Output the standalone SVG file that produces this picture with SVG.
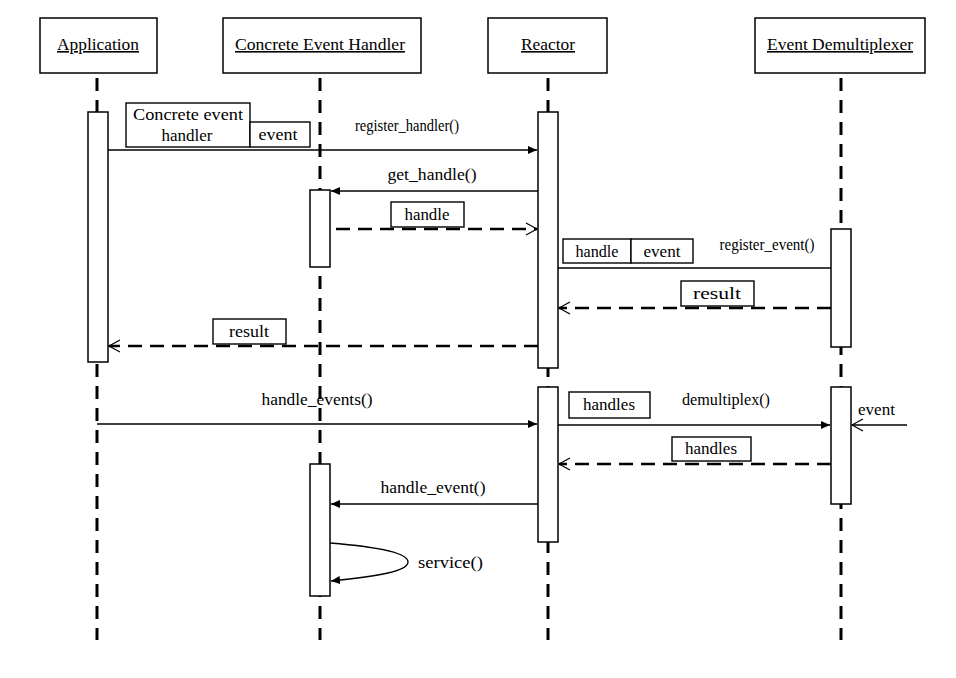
<svg xmlns="http://www.w3.org/2000/svg" width="956" height="678" viewBox="0 0 956 678">
<style>
text{font-family:"Liberation Serif","Times New Roman",serif;font-size:16px;fill:#000}
.hd{text-anchor:middle;text-decoration:underline}
.c{text-anchor:middle}
.box{fill:#fff;stroke:#000;stroke-width:1.5}
.life{stroke:#000;stroke-width:3;stroke-dasharray:13 9;fill:none}
.act{fill:#fff;stroke:#000;stroke-width:1.5}
.msg{stroke:#000;stroke-width:1.4;fill:none}
.ret{stroke:#000;stroke-width:2.6;stroke-dasharray:14 8;fill:none}
.lbl{fill:#fff;stroke:#000;stroke-width:1.4}
</style>
<defs>
<marker id="fill" markerWidth="10" markerHeight="10" refX="9" refY="5" orient="auto" markerUnits="userSpaceOnUse">
<path d="M0,1 L9,5 L0,9 Z" fill="#000"/>
</marker>
<marker id="open" markerWidth="14" markerHeight="14" refX="12" refY="7" orient="auto" markerUnits="userSpaceOnUse">
<path d="M1,1 L12,7 L1,13" fill="none" stroke="#000" stroke-width="1.2"/>
</marker>
</defs>
<rect width="956" height="678" fill="#fff"/>

<g id="lifelines">
<line class="life" x1="97" y1="78" x2="97" y2="640"/>
<line class="life" x1="320" y1="78" x2="320" y2="640"/>
<line class="life" x1="548" y1="78" x2="548" y2="640"/>
<line class="life" x1="841" y1="78" x2="841" y2="640"/>
</g>

<g id="application">
<rect class="box" x="40" y="18" width="117" height="55"/>
<text class="hd" x="98" y="50" textLength="82" lengthAdjust="spacingAndGlyphs">Application</text>
<rect class="act" x="88" y="112" width="20" height="250"/>
</g>

<g id="concrete-event-handler">
<rect class="box" x="223" y="18" width="198" height="55"/>
<text class="hd" x="320" y="50" textLength="170" lengthAdjust="spacingAndGlyphs">Concrete Event Handler</text>
<rect class="act" x="310" y="190" width="20" height="77"/>
<rect class="act" x="310" y="464" width="20" height="132"/>
</g>

<g id="reactor">
<rect class="box" x="488" y="18" width="119" height="55"/>
<text class="hd" x="548" y="50" textLength="54" lengthAdjust="spacingAndGlyphs">Reactor</text>
<rect class="act" x="538" y="112" width="20" height="256"/>
<rect class="act" x="538" y="387" width="20" height="155"/>
</g>

<g id="event-demultiplexer">
<rect class="box" x="755" y="18" width="170" height="55"/>
<text class="hd" x="840" y="50" textLength="146" lengthAdjust="spacingAndGlyphs">Event Demultiplexer</text>
<rect class="act" x="831" y="229" width="20" height="118"/>
<rect class="act" x="831" y="387" width="20" height="117"/>
</g>

<g id="connectors">
<line class="msg" x1="108" y1="150" x2="537" y2="150" marker-end="url(#fill)"/>
<line class="msg" x1="538" y1="191" x2="331" y2="191" marker-end="url(#fill)"/>
<line class="ret" x1="336" y1="229" x2="537" y2="229" marker-end="url(#open)"/>
<line class="msg" x1="558" y1="268" x2="831" y2="268"/>
<line class="ret" x1="831" y1="308" x2="559" y2="308" marker-end="url(#open)"/>
<line class="ret" x1="538" y1="346" x2="109" y2="346" marker-end="url(#open)"/>
<line class="msg" x1="97" y1="424" x2="537" y2="424" marker-end="url(#fill)"/>
<line class="msg" x1="558" y1="425" x2="830" y2="425" marker-end="url(#fill)"/>
<line class="msg" x1="907" y1="425" x2="852" y2="425" marker-end="url(#open)"/>
<line class="ret" x1="831" y1="464" x2="559" y2="464" marker-end="url(#open)"/>
<line class="msg" x1="538" y1="504" x2="331" y2="504" marker-end="url(#fill)"/>
<path class="msg" d="M330,543 C380,547 408,553 408,562 C408,571 380,576 331,581" marker-end="url(#fill)"/>
</g>

<g id="labels">
<rect class="lbl" x="126" y="103" width="124" height="44"/>
<text class="c" x="188" y="120" textLength="110" lengthAdjust="spacingAndGlyphs">Concrete event</text>
<text class="c" x="187" y="141" textLength="51" lengthAdjust="spacingAndGlyphs">handler</text>
<rect class="lbl" x="250" y="122" width="60" height="25"/>
<text class="c" x="278" y="140" textLength="39" lengthAdjust="spacingAndGlyphs">event</text>
<text class="c" x="407" y="131" textLength="104" lengthAdjust="spacingAndGlyphs">register_handler()</text>

<text class="c" x="432" y="180" textLength="89" lengthAdjust="spacingAndGlyphs">get_handle()</text>
<rect class="lbl" x="391" y="202" width="73" height="25"/>
<text class="c" x="427" y="220" textLength="45" lengthAdjust="spacingAndGlyphs">handle</text>

<rect class="lbl" x="563" y="239" width="68" height="24"/>
<text class="c" x="597" y="257" textLength="43" lengthAdjust="spacingAndGlyphs">handle</text>
<rect class="lbl" x="631" y="239" width="62" height="24"/>
<text class="c" x="662" y="257" textLength="37" lengthAdjust="spacingAndGlyphs">event</text>
<text class="c" x="767" y="250" textLength="95" lengthAdjust="spacingAndGlyphs">register_event()</text>

<rect class="lbl" x="681" y="281" width="73" height="25"/>
<text class="c" x="717" y="299" textLength="48" lengthAdjust="spacingAndGlyphs">result</text>

<rect class="lbl" x="213" y="319" width="73" height="25"/>
<text class="c" x="249" y="337" textLength="40" lengthAdjust="spacingAndGlyphs">result</text>

<text class="c" x="317" y="405" textLength="111" lengthAdjust="spacingAndGlyphs">handle_events()</text>
<rect class="lbl" x="569" y="392" width="81" height="26"/>
<text class="c" x="609" y="410" textLength="52" lengthAdjust="spacingAndGlyphs">handles</text>
<text class="c" x="726" y="405" textLength="88" lengthAdjust="spacingAndGlyphs">demultiplex()</text>
<text x="858" y="415" textLength="37" lengthAdjust="spacingAndGlyphs">event</text>

<rect class="lbl" x="672" y="437" width="79" height="24"/>
<text class="c" x="711" y="454" textLength="52" lengthAdjust="spacingAndGlyphs">handles</text>

<text class="c" x="433" y="493" textLength="105" lengthAdjust="spacingAndGlyphs">handle_event()</text>
<text x="418" y="568" textLength="65" lengthAdjust="spacingAndGlyphs">service()</text>
</g>
</svg>
